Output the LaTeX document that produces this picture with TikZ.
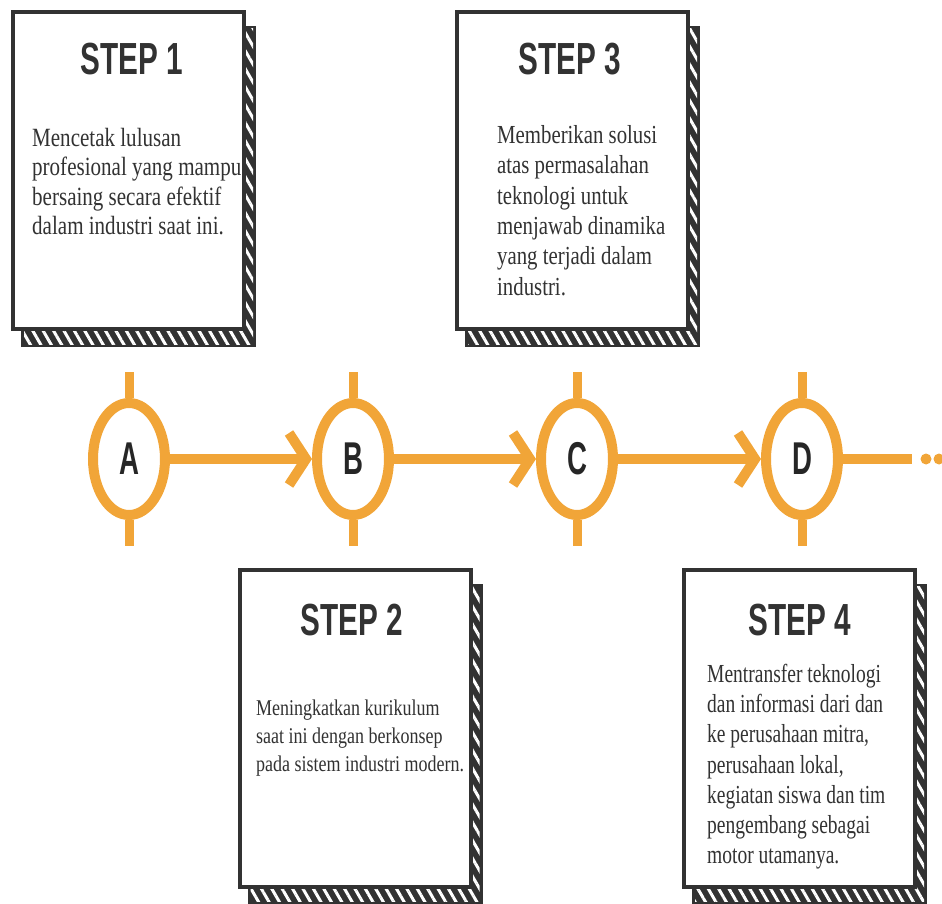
\documentclass[tikz,border=0pt]{standalone}
\usepackage{fontspec}
\setmainfont{Liberation Serif}
\newfontfamily\bodyfont{Liberation Serif}[FakeStretch=0.8]
\newfontfamily\narrowfont{Liberation Serif}[FakeStretch=0.75]
\newfontfamily\headfont{Liberation Sans}[FakeStretch=0.66]
\newfontfamily\markfont{Liberation Sans}[FakeStretch=0.6]
\usetikzlibrary{shapes.geometric,arrows.meta,patterns.meta,backgrounds}
\definecolor{ring}{RGB}{241,165,56}
\definecolor{ink}{RGB}{50,50,50}

\begin{document}
\begin{tikzpicture}[x=1pt,y=-1pt]
\tikzset{card/.style={draw=ink, line width=4pt, fill=white, inner sep=0pt, minimum width=231pt, minimum height=317pt}}
\tikzset{title/.style={anchor=base, text=ink, font=\headfont\bfseries\fontsize{45}{45}\selectfont}}
\tikzset{body/.style={anchor=north west, inner sep=0pt, align=left, text=ink}}
\tikzset{stop/.style={ellipse, draw=ring, line width=10pt, fill=white, minimum width=72pt, minimum height=112pt, inner sep=0pt, text=black!85, font=\markfont\bfseries\fontsize{46}{46}\selectfont}}
\tikzset{flow/.style={draw=ring, line width=10pt, -{Straight Barb[length=17pt, width=52pt]}}}
\tikzset{tick/.style={draw=ring, line width=9pt}}
\tikzset{rope/.style={pattern={Lines[angle=-60, distance=9pt, line width=3pt]}, pattern color=white}}

\useasboundingbox (0,0) rectangle (942,904);

% the four cards
\node[card] (card1) at (128.5,170.5) {};
\node[card] (card3) at (572.5,170.5) {};
\node[card] (card2) at (355,728) {};
\node[card] (card4) at (799.5,728) {};

% hatched shadow behind each card
\begin{scope}[on background layer]
\foreach \c in {card1,card2,card3,card4} {
  \fill[ink] ([shift={(10,16)}]\c.north west) rectangle ([shift={(10,16)}]\c.south east);
  \fill[rope] ([shift={(13,19)}]\c.north west) rectangle ([shift={(7,13)}]\c.south east);
}
\end{scope}

\node[title] (h1) at (132,75) {STEP 1};
\node[title] (h3) at (570,75) {STEP 3};
\node[title] (h2) at (352,635) {STEP 2};
\node[title] (h4) at (800,635) {STEP 4};

\node[body, font=\bodyfont\fontsize{26.3}{29.5}\selectfont] (t1) at (32,128)
  {Mencetak lulusan\\profesional yang mampu\\bersaing secara efektif\\dalam industri saat ini.};
\node[body, font=\bodyfont\fontsize{26}{30.4}\selectfont] (t3) at (497,125)
  {Memberikan solusi\\atas permasalahan\\teknologi untuk\\menjawab dinamika\\yang terjadi dalam\\industri.};
\node[body, font=\bodyfont\fontsize{22.5}{28}\selectfont] (t2) at (256,700)
  {Meningkatkan kurikulum\\saat ini dengan berkonsep\\pada sistem industri modern.};
\node[body, font=\narrowfont\fontsize{26}{30.2}\selectfont] (t4) at (707,664)
  {Mentransfer teknologi\\dan informasi dari dan\\ke perusahaan mitra,\\perusahaan lokal,\\kegiatan siswa dan tim\\pengembang sebagai\\motor utamanya.};

% timeline
\node[stop] (A) at (129,459) {A};
\node[stop] (B) at (353,459) {B};
\node[stop] (C) at (577,459) {C};
\node[stop] (D) at (802,459) {D};
\coordinate (tail) at (912,459);

\foreach \n in {A,B,C,D} {
  \draw[tick] (\n.north) -- ++(0,-26);
  \draw[tick] (\n.south) -- ++(0,26);
}
\draw[flow] (A) -- (B);
\draw[flow] (B) -- (C);
\draw[flow] (C) -- (D);
\draw[draw=ring, line width=10pt] (D) -- (tail);
\fill[ring] (926,459) circle (5.5) (939,459) circle (5.5);
\end{tikzpicture}
\end{document}
